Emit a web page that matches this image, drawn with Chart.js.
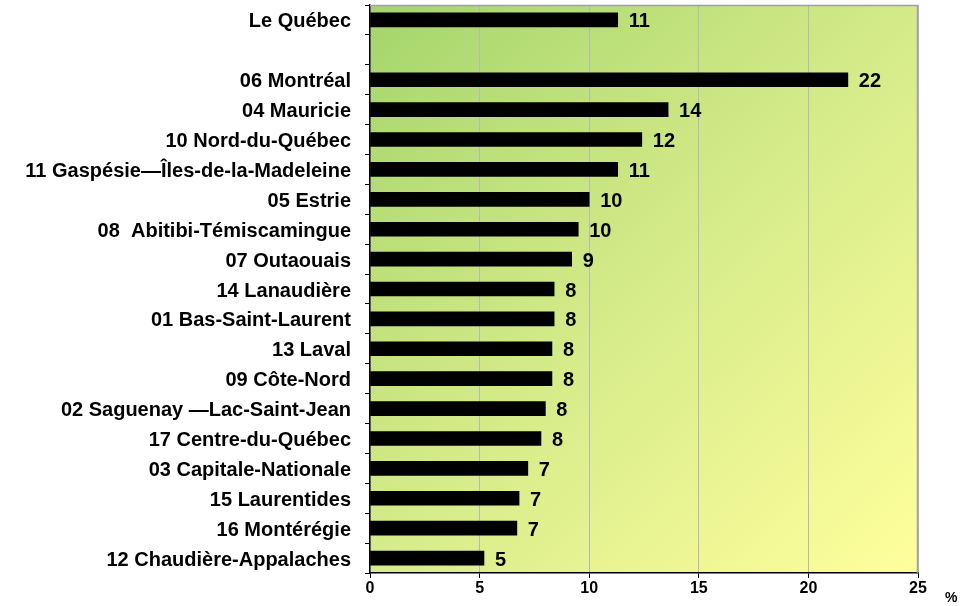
<!DOCTYPE html>
<html>
<head>
<meta charset="utf-8">
<script src="https://cdn.jsdelivr.net/npm/chart.js@4/dist/chart.umd.min.js"></script>
<style>
  html, body { margin: 0; padding: 0; background: #fff; }
  #wrap { width: 962px; height: 606px; }
</style>
</head>
<body>
<div id="wrap"><canvas id="graph"></canvas></div>
<script>
// régions du Québec, % (ordre du graphique)
const regions = [
  "Le Québec", "",
  "06 Montréal", "04 Mauricie", "10 Nord-du-Québec", "11 Gaspésie—Îles-de-la-Madeleine",
  "05 Estrie", "08  Abitibi-Témiscamingue", "07 Outaouais", "14 Lanaudière",
  "01 Bas-Saint-Laurent", "13 Laval", "09 Côte-Nord", "02 Saguenay —Lac-Saint-Jean",
  "17 Centre-du-Québec", "03 Capitale-Nationale", "15 Laurentides", "16 Montérégie",
  "12 Chaudière-Appalaches"
];
const pourcentages = [
  11.3, null,
  21.8, 13.6, 12.4, 11.3,
  10.0, 9.5, 9.2, 8.4,
  8.4, 8.3, 8.3, 8.0,
  7.8, 7.2, 6.8, 6.7,
  5.2
];
const xTicks = [0, 5, 10, 15, 20, 25];

const fondDegrade = {
  id: "fondDegrade",
  beforeDraw(chart) {
    const { ctx, chartArea: a } = chart;
    const g = ctx.createLinearGradient(a.left, a.top, a.right, a.bottom);
    g.addColorStop(0, "#a4d56c");
    g.addColorStop(0.5, "#d6eb8a");
    g.addColorStop(1, "#ffff9c");
    ctx.save();
    ctx.fillStyle = g;
    ctx.fillRect(a.left, a.top, a.right - a.left, a.bottom - a.top);
    ctx.restore();
  },
  afterDraw(chart) {
    const { ctx, chartArea: a } = chart;
    ctx.save();
    // cadre gris haut/droite
    ctx.strokeStyle = "#a0a0a0";
    ctx.lineWidth = 1.5;
    ctx.beginPath();
    ctx.moveTo(a.left, a.top + 0.5);
    ctx.lineTo(a.right - 0.5, a.top + 0.5);
    ctx.lineTo(a.right - 0.5, a.bottom);
    ctx.stroke();
    // valeurs à droite des barres
    ctx.fillStyle = "#000";
    ctx.font = "bold 20px 'Liberation Sans', Arial, sans-serif";
    ctx.textBaseline = "middle";
    const meta = chart.getDatasetMeta(0);
    meta.data.forEach((bar, i) => {
      const v = pourcentages[i];
      if (v === null) return;
      ctx.fillText(String(Math.round(v)), bar.x + 11, bar.y + 2);
    });
    // unité
    ctx.font = "bold 14px 'Liberation Sans', Arial, sans-serif";
    ctx.fillText("%", a.right + 27, a.bottom + 25);
    ctx.restore();
  }
};

new Chart(document.getElementById("graph"), {
  type: "bar",
  data: {
    labels: regions,
    datasets: [{
      data: pourcentages,
      backgroundColor: "#000",
      borderWidth: 0,
      barThickness: 14
    }]
  },
  options: {
    indexAxis: "y",
    responsive: true,
    maintainAspectRatio: false,
    animation: false,
    layout: { padding: { top: 5, right: 44, bottom: 0, left: 0 } },
    plugins: { legend: { display: false }, tooltip: { enabled: false } },
    scales: {
      x: {
        min: 0, max: 25,
        afterBuildTicks: (s) => { s.ticks = xTicks.map(v => ({ value: v })); },
        afterFit: (s) => { s.height = 33; s.paddingLeft = 0; s.paddingRight = 0; },
        grid: { color: "#b8b8b8", tickColor: "#000", tickLength: 5 },
        border: { color: "#000", width: 1.5 },
        ticks: {
          color: "#000",
          padding: 1,
          font: { family: "'Liberation Sans', Arial, sans-serif", size: 16, weight: "bold" }
        }
      },
      y: {
        afterFit: (s) => { s.width = 370; s.paddingTop = 0; s.paddingBottom = 0; },
        grid: { drawOnChartArea: false, color: "#000", tickLength: 5, offset: true },
        border: { color: "#000", width: 1.5 },
        ticks: {
          color: "#000",
          padding: 14,
          labelOffset: 2,
          autoSkip: false,
          font: { family: "'Liberation Sans', Arial, sans-serif", size: 20, weight: "bold" }
        }
      }
    }
  },
  plugins: [fondDegrade]
});
</script>
</body>
</html>
